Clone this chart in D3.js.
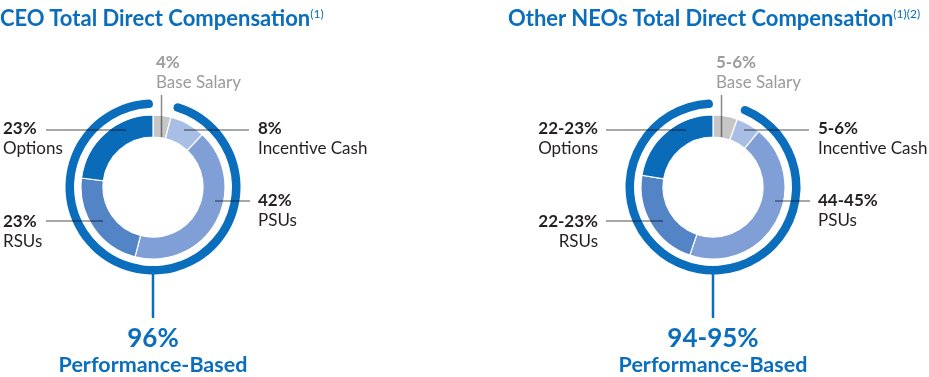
<!DOCTYPE html>
<html>
<head>
<meta charset="utf-8">
<script src="https://cdn.jsdelivr.net/npm/d3@7"></script>
<style>
  body { margin: 0; background: #fff; }
  svg { display: block; font-family: Lato, "Open Sans", sans-serif; }
</style>
</head>
<body>
<div id="chart"></div>
<script>
// data
var categories = ["Base Salary", "Incentive Cash", "PSUs", "RSUs", "Options"]
var ceoValues = [4, 8, 42, 23, 23]
var neoValues = [5.5, 5.5, 44.5, 22.5, 22.5]
var ceoLabels = ["4%", "8%", "42%", "23%", "23%"]
var neoLabels = ["5-6%", "5-6%", "44-45%", "22-23%", "22-23%"]
var titles = ["CEO Total Direct Compensation", "Other NEOs Total Direct Compensation"]
var titleNotes = ["(1)", "(1)(2)"]
var perfLabels = ["96%", "94-95%"]
var perfText = "Performance-Based"

var colors = ["#c6c6c6", "#a8bee5", "#7f9fd6", "#5384c6", "#0a6cb9"]
var blue = "#0a6ebd"
var ink = "#231f20"

var width = 929, height = 377

var svg = d3.select("#chart")
  .append("svg")
    .attr("width", width)
    .attr("height", height)

// leader line layout, relative to the donut centre
var lines = [
  {x1: 8.5, y1: -92, x2: 8.5, y2: -50},
  {x1: 31, y1: -57, x2: 96, y2: -57},
  {x1: 62, y1: 14, x2: 97, y2: 14},
  {x1: -107, y1: 34, x2: -50, y2: 34},
  {x1: -107, y1: -57, x2: -27, y2: -57}
]
// label layout: [x, pct baseline, name baseline, anchor]
function labelPos(i, side) {
  if (i == 0) return [3, -119, -99, "start"]
  if (i == 1) return [105, -53, -33, "start"]
  if (i == 2) return [105, 19, 39, "start"]
  var y = i == 3 ? 40 : -53
  if (side == 0) return [-150, y, y + 20, "start"]
  return [-115, y, y + 20, "end"]
}

var charts = [
  {cx: 153, cy: 187, values: ceoValues, labels: ceoLabels, tx: 0},
  {cx: 713, cy: 187, values: neoValues, labels: neoLabels, tx: 508}
]

var pie = d3.pie().sort(null).value(function(d) { return d; })
var ring = d3.arc().innerRadius(50).outerRadius(72)
var outer = d3.arc().innerRadius(79).outerRadius(87.5).cornerRadius(4.2)

charts.forEach(function(c, k) {
  // title
  var t = svg.append("text")
    .attr("x", c.tx)
    .attr("y", 26)
    .attr("fill", blue)
    .attr("font-size", 22)
    .attr("font-weight", 700)
    .text(titles[k])
  t.append("tspan")
    .attr("dy", -8)
    .attr("font-size", 12)
    .attr("font-weight", 400)
    .text(titleNotes[k])

  var g = svg.append("g")
    .attr("transform", "translate(" + c.cx + "," + c.cy + ")")

  var arcs = pie(c.values)

  g.selectAll("path.slice")
    .data(arcs)
    .enter()
    .append("path")
      .attr("class", "slice")
      .attr("d", ring)
      .attr("fill", function(d, i) { return colors[i]; })
      .attr("stroke", "#fff")
      .attr("stroke-width", 1.2)

  // performance based arc (everything except base salary)
  g.append("path")
    .attr("d", outer({startAngle: arcs[0].endAngle, endAngle: 2 * Math.PI}))
    .attr("fill", blue)

  g.append("line")
    .attr("x1", 0).attr("x2", 0)
    .attr("y1", 86).attr("y2", 131)
    .attr("stroke", blue)
    .attr("stroke-width", 2.5)

  g.append("text")
    .attr("x", 0).attr("y", 160)
    .attr("text-anchor", "middle")
    .attr("fill", blue)
    .attr("font-size", 26)
    .attr("font-weight", 700)
    .text(perfLabels[k])

  g.append("text")
    .attr("x", 0).attr("y", 185)
    .attr("text-anchor", "middle")
    .attr("fill", blue)
    .attr("font-size", 21.5)
    .attr("font-weight", 700)
    .text(perfText)

  // leader lines
  g.selectAll("line.lead")
    .data(lines)
    .enter()
    .append("line")
      .attr("class", "lead")
      .attr("x1", function(d) { return d.x1; })
      .attr("y1", function(d) { return d.y1; })
      .attr("x2", function(d) { return d.x2; })
      .attr("y2", function(d) { return d.y2; })
      .attr("stroke", "#8a8a8a")
      .attr("stroke-width", 1.5)
      .style("mix-blend-mode", "multiply")

  categories.forEach(function(name, i) {
    var p = labelPos(i, k)
    var col = i == 0 ? "#9b9b9b" : ink
    g.append("text")
      .attr("x", p[0]).attr("y", p[1])
      .attr("text-anchor", p[3])
      .attr("fill", col)
      .attr("font-size", 17)
      .attr("font-weight", 700)
      .text(c.labels[i])
    g.append("text")
      .attr("x", p[0]).attr("y", p[2])
      .attr("text-anchor", p[3])
      .attr("fill", col)
      .attr("font-size", 17)
      .text(name)
  })
})
</script>
</body>
</html>
